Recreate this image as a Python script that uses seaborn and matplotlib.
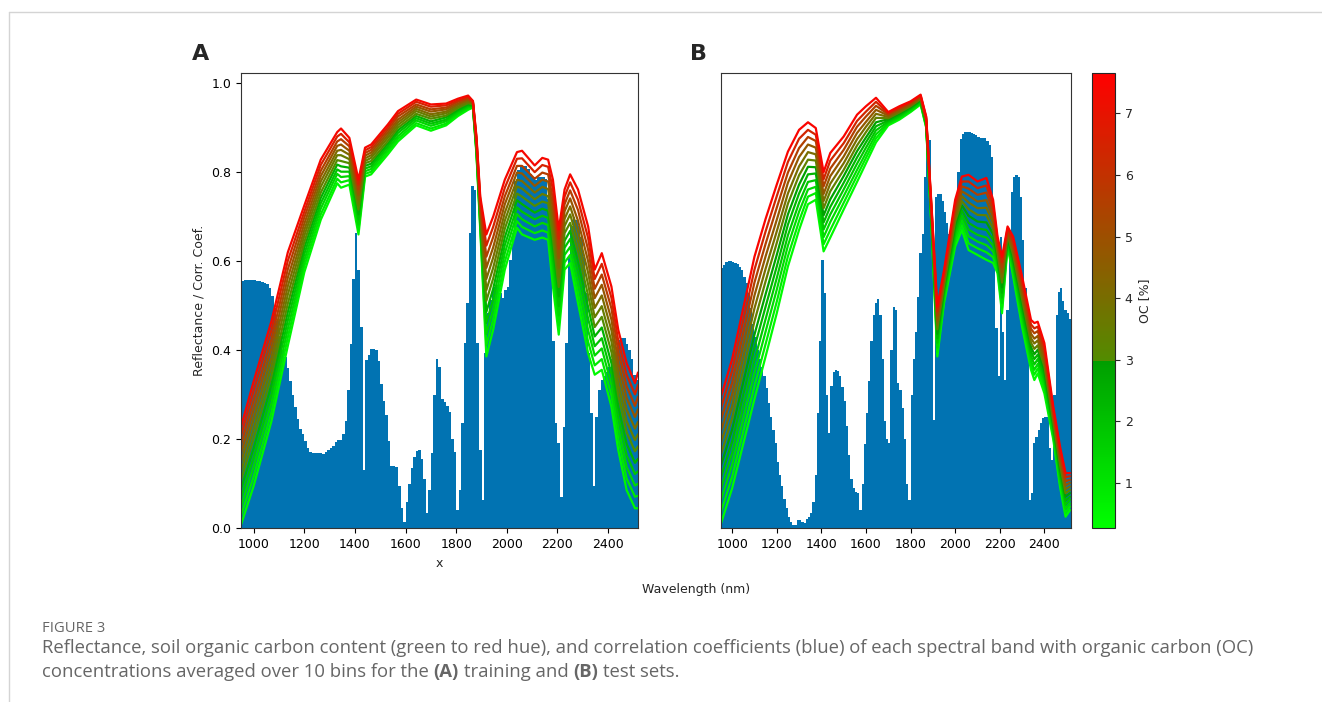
import numpy as np
import pandas as pd
import seaborn as sns
import matplotlib.pyplot as plt
from matplotlib.colors import LinearSegmentedColormap, Normalize
from matplotlib.cm import ScalarMappable
from matplotlib.lines import Line2D

# 相关系数柱（每 10 nm 一个波段，中心 955..2515）
band_nm = np.arange(955, 2516, 10)

corr_a = [
    .556, .558, .558, .558, .558, .558, .556, .555, .553, .551,
    .548, .540, .522, .495, .465, .432, .398, .385, .360, .330,
    .300, .272, .245, .222, .212, .195, .180, .172, .170, .169,
    .169, .170, .168, .172, .176, .180, .184, .194, .198, .198,
    .212, .240, .310, .415, .560, .663, .580, .453, .131, .378,
    .390, .402, .403, .400, .375, .325, .285, .255, .195, .140,
    .139, .137, .095, .045, .015, .060, .100, .135, .160, .174,
    .176, .155, .110, .034, .086, .170, .300, .380, .362, .290,
    .283, .275, .262, .200, .172, .041, .086, .236, .416, .506,
    .663, .768, .760, .416, .176, .064, .393, .483, .513, .535,
    .543, .543, .528, .518, .535, .543, .603, .663, .780, .805,
    .812, .814, .814, .808, .796, .788, .783, .788, .790, .789,
    .785, .740, .600, .420, .236, .191, .071, .228, .416, .610,
    .680, .700, .693, .680, .655, .610, .528, .393, .258, .094,
    .250, .310, .333, .341, .352, .363, .380, .395, .408, .423,
    .427, .427, .415, .400, .380, .345, .333,
]

corr_b = [
    .585, .592, .598, .600, .600, .598, .596, .593, .588, .580,
    .565, .550, .528, .495, .460, .430, .400, .380, .363, .343,
    .315, .281, .250, .220, .191, .150, .120, .094, .065, .045,
    .026, .015, .008, .007, .018, .019, .015, .011, .020, .026,
    .034, .060, .120, .260, .420, .603, .528, .300, .213, .320,
    .350, .356, .354, .342, .318, .285, .230, .165, .110, .090,
    .082, .079, .041, .100, .190, .260, .330, .420, .480, .506,
    .515, .480, .380, .240, .200, .191, .400, .498, .490, .326,
    .311, .270, .200, .100, .064, .300, .380, .440, .520, .619,
    .660, .790, .855, .873, .690, .243, .745, .750, .750, .735,
    .710, .686, .660, .620, .630, .700, .800, .875, .885, .891,
    .891, .891, .888, .886, .884, .880, .877, .876, .876, .870,
    .860, .835, .693, .450, .341, .655, .440, .333, .490, .670,
    .755, .790, .794, .790, .745, .648, .540, .416, .064, .079,
    .191, .205, .220, .236, .248, .251, .251, .180, .154, .300,
    .480, .530, .539, .510, .491, .483, .470,
]

# 各分箱平均 OC [%]（低 -> 高）
oc_a = [0.5, 0.9, 1.4, 1.9, 2.4, 3.0, 3.5, 4.1, 4.8, 5.6, 6.5, 7.4]
oc_b = [0.4, 0.8, 1.3, 1.8, 2.3, 2.9, 3.4, 4.0, 4.7, 5.5, 6.4, 7.5]

# 反射率：每行一个波长，每列一个 OC 分箱
wl_a = [950, 1000, 1070, 1135, 1200, 1265, 1330, 1345, 1378, 1414, 1440,
        1464, 1530, 1570, 1642, 1700, 1760, 1807, 1847, 1866, 1880, 1895,
        1919, 1946, 1992, 2040, 2060, 2110, 2140, 2163, 2182, 2205, 2228,
        2250, 2281, 2321, 2347, 2375, 2413, 2440, 2473, 2506, 2518]
refl_a = [
    [.008, .028, .048, .068, .088, .108, .128, .148, .168, .188, .208, .228],
    [.095, .116, .138, .159, .180, .202, .223, .245, .266, .287, .309, .330],
    [.240, .260, .281, .301, .322, .342, .363, .383, .404, .424, .445, .465],
    [.410, .429, .448, .467, .486, .505, .525, .544, .563, .582, .601, .620],
    [.575, .589, .602, .616, .630, .643, .657, .670, .684, .698, .711, .725],
    [.693, .705, .718, .730, .742, .754, .767, .779, .791, .803, .816, .828],
    [.775, .785, .796, .806, .817, .827, .838, .848, .859, .869, .880, .890],
    [.765, .777, .789, .801, .813, .825, .838, .850, .862, .874, .886, .898],
    [.772, .782, .791, .801, .810, .820, .829, .839, .848, .858, .867, .877],
    [.660, .671, .682, .694, .705, .716, .727, .738, .749, .761, .772, .783],
    [.790, .796, .802, .808, .814, .820, .825, .831, .837, .843, .849, .855],
    [.795, .801, .807, .813, .819, .825, .832, .838, .844, .850, .856, .862],
    [.840, .846, .852, .858, .864, .870, .877, .883, .889, .895, .901, .907],
    [.869, .875, .881, .888, .894, .900, .906, .912, .918, .925, .931, .937],
    [.905, .910, .916, .921, .926, .931, .937, .942, .947, .952, .958, .963],
    [.893, .898, .904, .909, .914, .920, .925, .930, .936, .941, .947, .952],
    [.905, .909, .914, .918, .923, .927, .932, .936, .941, .945, .950, .954],
    [.926, .930, .933, .937, .940, .944, .947, .951, .954, .958, .961, .965],
    [.940, .943, .946, .949, .952, .955, .957, .960, .963, .966, .969, .972],
    [.945, .946, .948, .949, .950, .952, .953, .955, .956, .957, .959, .960],
    [.840, .844, .847, .851, .855, .858, .862, .865, .869, .873, .876, .880],
    [.670, .677, .684, .690, .697, .704, .711, .718, .725, .731, .738, .745],
    [.386, .411, .436, .461, .486, .511, .535, .560, .585, .610, .635, .660],
    [.446, .469, .492, .515, .538, .561, .585, .608, .631, .654, .677, .700],
    [.581, .599, .618, .636, .654, .673, .691, .709, .728, .746, .765, .783],
    [.675, .690, .706, .721, .737, .752, .768, .783, .799, .814, .830, .845],
    [.660, .677, .694, .711, .728, .745, .763, .780, .797, .814, .831, .848],
    [.648, .663, .678, .694, .709, .724, .739, .754, .769, .785, .800, .815],
    [.653, .669, .686, .702, .718, .734, .751, .767, .783, .799, .816, .832],
    [.648, .664, .681, .697, .713, .730, .746, .762, .779, .795, .812, .828],
    [.543, .565, .587, .608, .630, .652, .674, .696, .718, .739, .761, .783],
    [.435, .456, .478, .499, .521, .542, .564, .585, .607, .628, .650, .671],
    [.581, .597, .614, .630, .646, .663, .679, .695, .712, .728, .745, .761],
    [.596, .614, .632, .650, .668, .686, .705, .723, .741, .759, .777, .795],
    [.506, .529, .552, .576, .599, .622, .645, .668, .691, .715, .738, .761],
    [.393, .419, .445, .471, .497, .523, .548, .574, .600, .626, .652, .678],
    [.345, .366, .388, .409, .431, .452, .474, .495, .517, .538, .560, .581],
    [.356, .380, .404, .427, .451, .475, .499, .523, .547, .570, .594, .618],
    [.273, .298, .322, .347, .371, .396, .420, .445, .469, .494, .518, .543],
    [.176, .201, .225, .250, .274, .299, .323, .348, .372, .397, .421, .446],
    [.086, .112, .138, .164, .190, .216, .241, .267, .293, .319, .345, .371],
    [.045, .071, .096, .122, .147, .173, .198, .224, .250, .275, .301, .326],
    [.045, .073, .100, .128, .156, .184, .211, .239, .267, .295, .322, .350],
]

wl_b = [950, 1000, 1100, 1150, 1200, 1250, 1300, 1340, 1375, 1410, 1440,
        1500, 1560, 1600, 1645, 1700, 1750, 1800, 1845, 1870, 1895, 1920,
        1950, 2000, 2030, 2060, 2100, 2140, 2170, 2190, 2210, 2235, 2260,
        2300, 2340, 2355, 2370, 2400, 2440, 2470, 2495, 2515]
refl_b = [
    [.011, .037, .063, .089, .115, .141, .166, .192, .218, .244, .270, .296],
    [.090, .116, .143, .169, .195, .222, .248, .275, .301, .327, .354, .380],
    [.290, .319, .348, .377, .406, .435, .465, .494, .523, .552, .581, .610],
    [.386, .414, .442, .470, .498, .526, .555, .583, .611, .639, .667, .695],
    [.483, .509, .536, .562, .588, .614, .641, .667, .693, .720, .746, .772],
    [.588, .611, .635, .658, .682, .705, .729, .752, .776, .799, .823, .846],
    [.670, .690, .711, .731, .752, .772, .793, .813, .834, .854, .875, .895],
    [.728, .745, .761, .778, .795, .812, .828, .845, .862, .879, .895, .912],
    [.738, .753, .767, .782, .797, .811, .826, .840, .855, .870, .884, .899],
    [.622, .638, .654, .671, .687, .703, .719, .735, .751, .768, .784, .800],
    [.653, .670, .688, .705, .722, .739, .757, .774, .791, .808, .826, .843],
    [.716, .731, .746, .761, .776, .791, .805, .820, .835, .850, .865, .880],
    [.778, .792, .805, .819, .833, .847, .860, .874, .888, .902, .915, .929],
    [.820, .832, .843, .855, .867, .878, .890, .902, .913, .925, .936, .948],
    [.867, .876, .885, .894, .903, .912, .922, .931, .940, .949, .958, .967],
    [.905, .908, .910, .913, .916, .919, .921, .924, .927, .930, .932, .935],
    [.918, .921, .923, .926, .929, .932, .934, .937, .940, .943, .945, .948],
    [.935, .937, .939, .942, .944, .946, .948, .950, .952, .955, .957, .959],
    [.952, .954, .956, .958, .960, .962, .964, .966, .968, .970, .972, .974],
    [.900, .902, .905, .907, .909, .911, .914, .916, .918, .920, .923, .925],
    [.663, .668, .672, .677, .682, .687, .691, .696, .701, .706, .710, .715],
    [.386, .396, .406, .417, .427, .437, .447, .457, .467, .478, .488, .498],
    [.506, .513, .519, .526, .533, .540, .546, .553, .560, .567, .573, .580],
    [.633, .643, .652, .662, .671, .681, .690, .700, .709, .719, .728, .738],
    [.670, .681, .692, .703, .714, .725, .735, .746, .757, .768, .779, .790],
    [.625, .640, .656, .671, .686, .702, .717, .732, .748, .763, .779, .794],
    [.614, .629, .644, .659, .674, .689, .704, .719, .734, .749, .764, .779],
    [.603, .620, .636, .653, .670, .687, .703, .720, .737, .754, .770, .787],
    [.596, .609, .622, .635, .648, .661, .673, .686, .699, .712, .725, .738],
    [.573, .580, .588, .595, .603, .610, .618, .625, .633, .640, .648, .655],
    [.483, .495, .506, .518, .529, .541, .552, .564, .575, .587, .598, .610],
    [.633, .637, .641, .645, .649, .653, .658, .662, .666, .670, .674, .678],
    [.566, .574, .582, .590, .598, .606, .615, .623, .631, .639, .647, .655],
    [.453, .463, .474, .484, .494, .504, .515, .525, .535, .545, .556, .566],
    [.356, .366, .376, .387, .397, .407, .417, .427, .437, .448, .458, .468],
    [.333, .345, .356, .368, .380, .391, .403, .415, .426, .438, .449, .461],
    [.348, .359, .369, .380, .390, .401, .411, .422, .432, .443, .453, .464],
    [.303, .313, .324, .334, .344, .354, .365, .375, .385, .395, .406, .416],
    [.199, .206, .212, .219, .226, .233, .239, .246, .253, .260, .266, .273],
    [.094, .102, .110, .119, .127, .135, .143, .151, .159, .168, .176, .184],
    [.026, .035, .044, .053, .062, .071, .079, .088, .097, .106, .115, .124],
    [.041, .049, .056, .064, .071, .079, .086, .094, .102, .109, .117, .124],
]

caption_title = "FIGURE 3"
caption_line1 = ("Reflectance, soil organic carbon content (green to red hue), and correlation "
                 "coefficients (blue) of each spectral band with organic carbon (OC)")
caption_line2 = [("concentrations averaged over 10 bins for the", "normal"), ("(A)", "bold"),
                 ("training and", "normal"), ("(B)", "bold"), ("test sets.", "normal")]

sns.set_style("ticks")
plt.rcParams['font.family'] = ['DejaVu Sans']

# 绿 -> 深绿 | 橄榄 -> 红
oc_cmap = LinearSegmentedColormap('oc', {
    'red': [(0, 0, 0), (0.366, 0, 0.32), (1, 1, 1)],
    'green': [(0, 1, 1), (0.366, 0.62, 0.55), (1, 0, 0)],
    'blue': [(0, 0, 0), (1, 0, 0)],
})
norm = Normalize(vmin=0.264, vmax=7.65)
blue = sns.color_palette('colorblind')[0]

W, H = 1322, 702
fig = plt.figure(figsize=(W / 100, H / 100), dpi=100)
ax_a = fig.add_axes([241 / W, 1 - 528.3 / H, 397 / W, 455 / H])
ax_b = fig.add_axes([721 / W, 1 - 528.3 / H, 349.7 / W, 455 / H])
cax = fig.add_axes([1092.3 / W, 1 - 528.3 / H, 22.7 / W, 455 / H])

for ax, corr, wl, refl, oc in [(ax_a, corr_a, wl_a, refl_a, oc_a),
                               (ax_b, corr_b, wl_b, refl_b, oc_b)]:
    ax.bar(band_nm, corr, width=10, color=blue, linewidth=0, zorder=1)
    r = np.array(refl)
    df = pd.DataFrame({'wl': np.repeat(wl, len(oc)),
                       'oc': np.tile(oc, len(wl)),
                       'refl': r.ravel()})
    sns.lineplot(data=df, x='wl', y='refl', hue='oc', palette=oc_cmap, hue_norm=norm,
                 estimator=None, legend=False, linewidth=1.6, ax=ax, zorder=2)
    ax.set_xlim(950, 2518)
    ax.set_ylim(0, 1.022)
    ax.set_xticks(range(1000, 2401, 200))
    ax.tick_params(labelsize=9, colors='black')
    for s in ax.spines.values():
        s.set_color('#333333')

ax_a.set_yticks(np.arange(0, 1.01, 0.2))
ax_a.set_xlabel('x', fontsize=9)
ax_a.set_ylabel('Reflectance / Corr. Coef.', fontsize=9)
ax_b.set_yticks([])
ax_b.set_xlabel('')
ax_b.set_ylabel('')

cb = fig.colorbar(ScalarMappable(norm=norm, cmap=oc_cmap), cax=cax)
cb.set_ticks(range(1, 8))
cb.ax.tick_params(labelsize=9)
cb.set_label('OC [%]', fontsize=9)

fig.text(192 / W, 1 - 54 / H, 'A', fontsize=16, fontweight='bold', va='center')
fig.text(690 / W, 1 - 54 / H, 'B', fontsize=16, fontweight='bold', va='center')
fig.text(696 / W, 1 - 589 / H, 'Wavelength (nm)', fontsize=9, ha='center', va='center')

cap_size = 13.3
cap = dict(family='Open Sans', color='#666666', va='center')
fig.text(42 / W, 1 - 628 / H, caption_title, fontsize=10.6, **cap)
fig.text(42 / W, 1 - 648 / H, caption_line1, fontsize=cap_size, **cap)

renderer = fig.canvas.get_renderer()
probe = fig.text(0, 0, 'x x', fontsize=cap_size, family='Open Sans')
probe2 = fig.text(0, 0, 'xx', fontsize=cap_size, family='Open Sans')
space = (probe.get_window_extent(renderer).width - probe2.get_window_extent(renderer).width) / W
probe.remove()
probe2.remove()
x = 42 / W
for part, weight in caption_line2:
    t = fig.text(x, 1 - 672 / H, part, fontsize=cap_size, fontweight=weight, **cap)
    x += t.get_window_extent(renderer).width / W + space

# 外框细线
fig.add_artist(Line2D([9 / W, 1], [1 - 12 / H, 1 - 12 / H], color='#d4d4d4', lw=1,
                      transform=fig.transFigure))
fig.add_artist(Line2D([9 / W, 9 / W], [0, 1 - 12 / H], color='#d4d4d4', lw=1,
                      transform=fig.transFigure))

fig.savefig('out.png', dpi=100)
